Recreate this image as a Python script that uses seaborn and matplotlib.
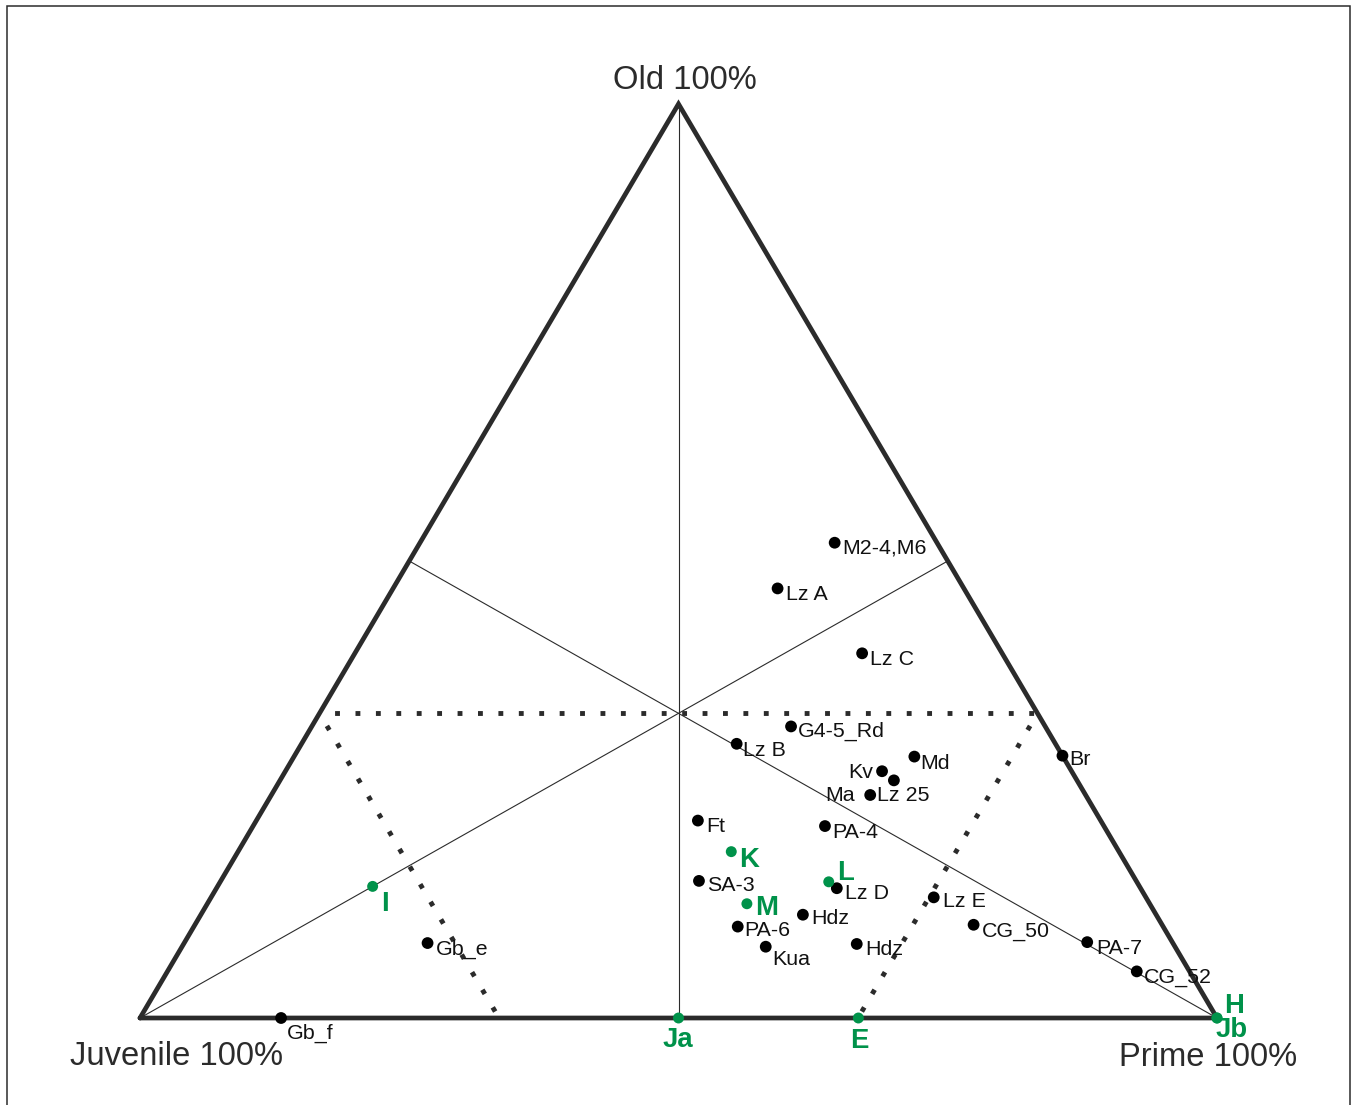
import numpy as np
import pandas as pd
import matplotlib
matplotlib.use("Agg")
import matplotlib.pyplot as plt
from matplotlib.patches import Rectangle
import seaborn as sns

# ---------------- data (percent Old / percent Prime; Juvenile = rest) ----------------
black_labels = ["M2-4,M6", "Lz A", "Lz C", "G4-5_Rd", "Lz B", "Md", "Kv", "Lz 25", "Ma",
                "Br", "Ft", "PA-4", "SA-3", "Lz D", "Hdz", "PA-6", "Kua", "Hdz",
                "Lz E", "CG_50", "PA-7", "CG_52", "Gb_e", "Gb_f"]
black_old = [52.0, 47.0, 39.9, 31.9, 30.0, 28.6, 27.0, 26.0, 24.4,
             28.7, 21.6, 21.0, 15.0, 14.2, 11.3, 10.0, 7.8, 8.1,
             13.2, 10.2, 8.3, 5.1, 8.2, 0.0]
black_prime = [38.5, 35.7, 47.1, 44.5, 40.4, 57.6, 55.4, 57.0, 55.6,
               71.3, 41.0, 53.1, 44.4, 57.6, 55.9, 50.5, 54.2, 62.5,
               67.1, 72.3, 83.8, 90.0, 22.6, 13.1]

green_labels = ["I", "K", "L", "M", "Ja", "E", "H", "Jb"]
green_old = [14.4, 18.2, 14.9, 12.5, 0.0, 0.0, 0.0, 0.0]
green_prime = [14.4, 45.8, 56.5, 50.1, 50.0, 66.7, 100.0, 100.0]

vertex_labels = ["Juvenile 100%", "Prime 100%", "Old 100%"]

# ---------------- label placement (pixels: dx right, dy down to baseline, ha) ----------------
black_offsets = [(8, 11, "left"), (8, 12, "left"), (8, 12, "left"), (7, 10, "left"),
                 (6, 12, "left"), (6, 12, "left"), (-9, 7, "right"), (-17, 21, "left"),
                 (-15, 6, "right"), (7, 9, "left"), (8, 11, "left"), (7, 12, "left"),
                 (8, 10, "left"), (8, 11, "left"), (8, 9, "left"), (7, 9, "left"),
                 (7, 18, "left"), (9, 11, "left"), (9, 10, "left"), (8, 12, "left"),
                 (9, 12, "left"), (7, 11, "left"), (8, 12, "left"), (6, 21, "left")]
green_offsets = [(8, 25, "left"), (8, 15, "left"), (8, -2, "left"), (8, 11, "left"),
                 (-1, 29, "center"), (1, 30, "center"), (7, -5, "left"), (-1, 19, "left")]


def tern_xy(old, prime):
    old = np.asarray(old, float) / 100.0
    prime = np.asarray(prime, float) / 100.0
    return prime + old / 2.0, old


W, H = 1354, 1105
DPI = 100
# pixel placement of the triangle
PX_J, PX_P, PY_BASE, PY_TOP = 140, 1217, 1018, 104
sx = PX_P - PX_J
sy = PY_BASE - PY_TOP

sns.set_theme(style="white")
plt.rcParams["font.family"] = ["Liberation Sans", "DejaVu Sans"]

fig = plt.figure(figsize=(W / DPI, H / DPI), dpi=DPI)
ax = fig.add_axes([0, 0, 1, 1])
ax.set_xlim(-PX_J / sx, (W - PX_J) / sx)
ax.set_ylim(-(H - PY_BASE) / sy, PY_BASE / sy)
ax.axis("off")

dark = "#2b2b2b"
green = "#00924a"

# outer frame
fig.add_artist(Rectangle((7 / W, -0.02), (1350 - 7) / W, (H - 6) / H + 0.02,
                         transform=fig.transFigure, fill=False, ec=dark, lw=1.1))

# medians
verts = {"J": (0.0, 0.0), "P": (1.0, 0.0), "O": (0.5, 1.0)}
mids = {"J": (0.75, 0.5), "P": (0.25, 0.5), "O": (0.5, 0.0)}
for k in verts:
    ax.plot([verts[k][0], mids[k][0]], [verts[k][1], mids[k][1]],
            color=dark, lw=0.8, zorder=1)

# dotted thirds lines
dot_style = dict(color=dark, lw=3.5, linestyle=(1.2, (1, 3.2)),
                 dash_capstyle="butt", zorder=2)
# Old = 1/3
x1, y1 = tern_xy(100 / 3, 0)
x2, y2 = tern_xy(100 / 3, 200 / 3)
ax.plot([x1, x2], [y1, y2], **dot_style)
# Juvenile = 2/3
x1, y1 = tern_xy(100 / 3, 0)
x2, y2 = tern_xy(0, 100 / 3)
ax.plot([x1, x2], [y1, y2], **dot_style)
# Prime = 2/3
x1, y1 = tern_xy(100 / 3, 200 / 3)
x2, y2 = tern_xy(0, 200 / 3)
ax.plot([x1, x2], [y1, y2], **dot_style)

# triangle
tri = np.array([verts["J"], verts["P"], verts["O"], verts["J"]])
ax.plot(tri[:, 0], tri[:, 1], color=dark, lw=3.4, solid_joinstyle="miter", zorder=3)

# points
bx, by = tern_xy(black_old, black_prime)
gx, gy = tern_xy(green_old, green_prime)
df_b = pd.DataFrame({"x": bx, "y": by, "label": black_labels})
df_g = pd.DataFrame({"x": gx, "y": gy, "label": green_labels})
sns.scatterplot(data=df_b, x="x", y="y", color="black", s=72, edgecolor="none",
                ax=ax, zorder=5, legend=False)
sns.scatterplot(data=df_g, x="x", y="y", color=green, s=62, edgecolor="none",
                ax=ax, zorder=6, legend=False)
ax.set_xlabel("")
ax.set_ylabel("")

for (xx, yy, lab), (dx, dy, ha) in zip(df_b[["x", "y", "label"]].values, black_offsets):
    ax.annotate(lab, (xx, yy), xytext=(dx, -dy), textcoords="offset pixels",
                ha=ha, va="baseline", fontsize=15.4, color="#111111", zorder=7)
for (xx, yy, lab), (dx, dy, ha) in zip(df_g[["x", "y", "label"]].values, green_offsets):
    ax.annotate(lab, (xx, yy), xytext=(dx, -dy), textcoords="offset pixels",
                ha=ha, va="baseline", fontsize=19.8, fontweight="bold",
                color=green, zorder=7)

# vertex labels (pixel placement)
def px2d(px, py):
    return (px - PX_J) / sx, (PY_BASE - py) / sy

lab_font = dict(fontsize=23.6, color="#2b2b2b", va="baseline")
ax.text(*px2d(70, 1065), vertex_labels[0], ha="left", **lab_font)
ax.text(*px2d(1297, 1066), vertex_labels[1], ha="right", **lab_font)
ax.text(*px2d(685, 89), vertex_labels[2], ha="center", **lab_font)

fig.savefig("out.png", dpi=DPI)
